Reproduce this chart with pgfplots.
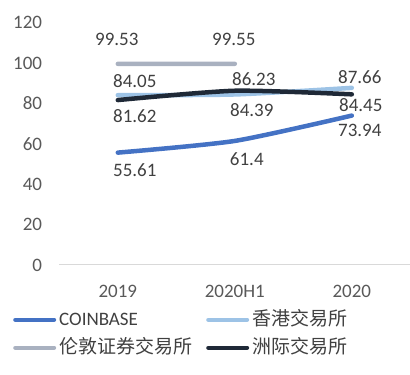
\documentclass[border=0pt]{standalone}
\usepackage{pgfplots}
\pgfplotsset{compat=1.18}
\usepackage{pgfplotstable}
\usepackage{fontspec}
\setmainfont{Carlito}
\newfontfamily\cjk{Noto Sans CJK SC}
\definecolor{coin}{HTML}{4472C4}
\definecolor{hk}{HTML}{9DC3E6}
\definecolor{lse}{HTML}{A9B1C0}
\definecolor{ice}{HTML}{1F2937}
\definecolor{lbl}{HTML}{404040}
\definecolor{tick}{HTML}{595959}
\definecolor{axgray}{HTML}{D9D9D9}
\pgfplotstableread{
x y dx dy
0 55.61 17 -17.5
1 61.4 12 -18
2 73.94 8 -14.6
}\coindata
\pgfplotstableread{
x y dx dy
0 84.05 17 14
1 84.39 17 -15.6
2 87.66 8 11
}\hkdata
\pgfplotstableread{
x y dx dy
0 99.53 -1 24
1 99.55 -1 24
}\lsedata
\pgfplotstableread{
x y dx dy
0 81.62 17 -16
1 86.23 19 12
2 84.45 9 -11
}\icedata
\begin{document}
\begin{tikzpicture}
\path[use as bounding box] (0,0) rectangle (410pt,375pt);
\begin{axis}[
  at={(59.3pt,110pt)}, anchor=south west,
  width=351pt, height=242.5pt, scale only axis,
  xmin=-0.5, xmax=2.5, ymin=0, ymax=120,
  ytick={0,20,...,120}, xtick={0,1,2}, xticklabels={2019,2020H1,2020},
  axis x line*=bottom, axis y line*=left,
  y axis line style={draw=none},
  x axis line style={draw=axgray, line width=1pt},
  major tick length=0pt,
  clip=false,
  /pgf/number format/assume math mode=true,
  ticklabel style={font=\fontsize{19}{22}\selectfont, text=tick},
  yticklabel style={anchor=east, inner sep=0pt, xshift=-17pt},
  xticklabel style={anchor=base, inner sep=0pt, yshift=-32pt},
  legend columns=2,
  legend style={at={(-0.1632,-0.19)}, anchor=north west, draw=none, fill=none,
    inner sep=0pt, column sep=3pt, row sep=9pt,
    nodes={inner sep=0pt, text height=14pt, text depth=5pt},
    font=\fontsize{19}{22}\selectfont, text=lbl},
  legend cell align=left,
  legend image code/.code={
    \path[draw=none, fill=none] (0pt,0pt) rectangle (54pt,0pt);
    \draw[#1, line width=4.5pt, line cap=round] (13.25pt,1pt) -- (51.75pt,1pt);
  },
  nodes near coords,
  visualization depends on={\thisrow{dx} \as \dx},
  visualization depends on={\thisrow{dy} \as \dy},
  every node near coord/.append style={anchor=center, xshift=\dx*1pt, yshift=\dy*1pt,
    text=lbl, inner sep=0pt, font=\fontsize{19}{22}\selectfont},
]
\addplot[coin, line width=4.5pt, line cap=round, smooth, tension=0.4] table[x=x,y=y] {\coindata};
\addlegendentry{COINBASE}
\addplot[hk, line width=4.5pt, line cap=round, smooth, tension=0.4] table[x=x,y=y] {\hkdata};
\addlegendentry{\cjk 香港交易所}
\addplot[lse, line width=4.5pt, line cap=round] table[x=x,y=y] {\lsedata};
\addlegendentry{\cjk 伦敦证券交易所}
\addplot[ice, line width=4.5pt, line cap=round, smooth, tension=0.4] table[x=x,y=y] {\icedata};
\addlegendentry{\cjk 洲际交易所}
\end{axis}
\end{tikzpicture}
\end{document}
